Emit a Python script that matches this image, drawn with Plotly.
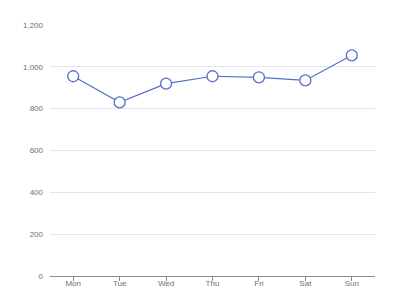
import plotly.graph_objects as go

days = ["Mon", "Tue", "Wed", "Thu", "Fri", "Sat", "Sun"]
values = [955, 830, 920, 955, 950, 935, 1055]
y_ticks = [0, 200, 400, 600, 800, 1000, 1200]
y_tick_text = ["0", "200", "400", "600", "800", "1,000", "1,200"]

fig = go.Figure(go.Scatter(
    x=days, y=values, mode="lines+markers",
    line=dict(color="#5470c6", width=1.2),
    marker=dict(size=11, color="#ffffff", line=dict(color="#5470c6", width=1.3)),
))
fig.update_layout(
    width=400, height=300,
    margin=dict(l=50, r=25, t=25, b=24, autoexpand=False),
    paper_bgcolor="#ffffff", plot_bgcolor="#ffffff",
    showlegend=False,
    font=dict(family="Liberation Sans, Arial, sans-serif", size=8, color="#6e7079"),
)
fig.update_xaxes(
    type="category", range=[-0.5, 6.5], automargin=False,
    showline=True, linecolor="#8a8d96", linewidth=1,
    ticks="outside", ticklen=4, tickcolor="#8a8d96",
    showgrid=False, zeroline=False, ticklabelstandoff=-5,
)
fig.update_yaxes(
    range=[0, 1200], tickvals=y_ticks, ticktext=y_tick_text, automargin=False,
    showgrid=True, gridcolor="#e0e6f1", gridwidth=1,
    zeroline=False, showline=False, ticks="", ticklabelstandoff=6,
)
fig.write_html("out.html")
